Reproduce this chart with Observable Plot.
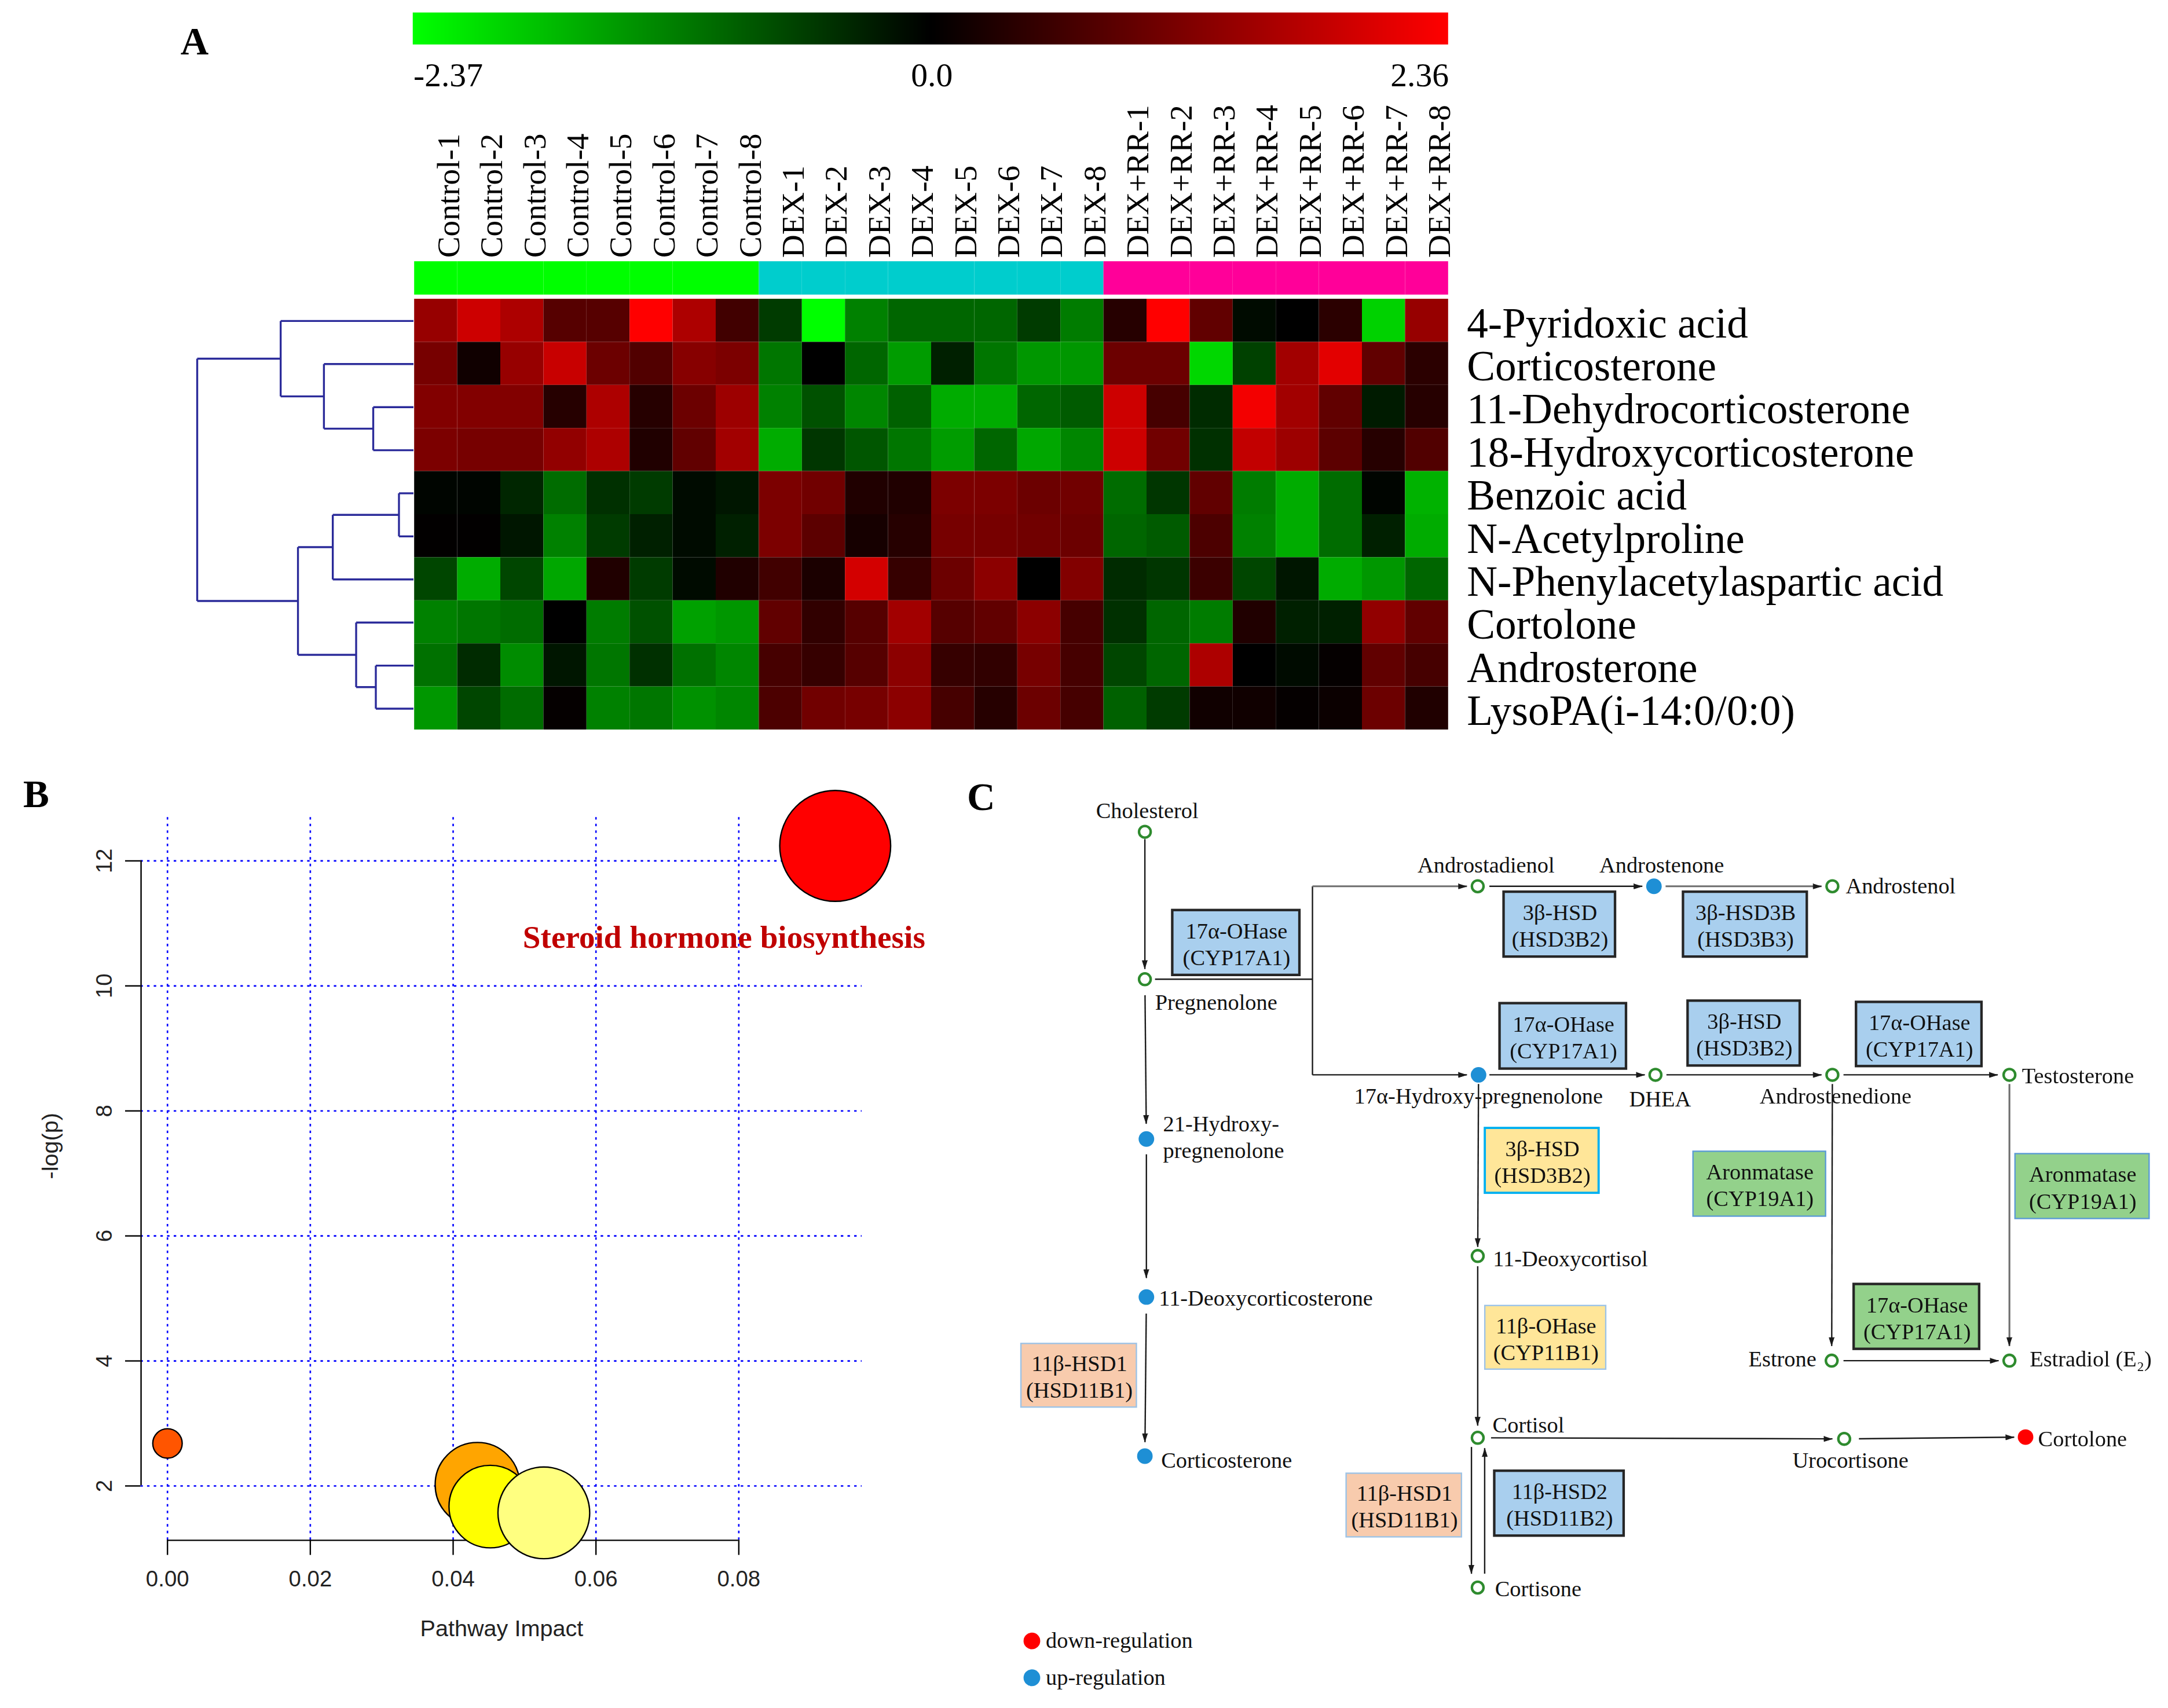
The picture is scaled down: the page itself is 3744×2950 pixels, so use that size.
<!DOCTYPE html>
<html>
<head>
<meta charset="utf-8">
<script src="https://cdn.jsdelivr.net/npm/d3@7"></script>
<script src="https://cdn.jsdelivr.net/npm/@observablehq/plot@0.6"></script>
<style>
  html, body { margin: 0; padding: 0; background: #fff; overflow: hidden; }
  #page { position: absolute; left: 0; top: 0; width: 1560px; height: 1230px; transform: scale(2.4); transform-origin: 0 0; background: #fff; }
  .box { position: absolute; }
  .panel-label { position: absolute; font-family: "Liberation Serif", "Times New Roman", serif; font-weight: bold; font-size: 28px; line-height: 1; transform: translate(-50%, -50%); color: #000; }
</style>
</head>
<body>
<div id="page"></div>
<script>
const SERIF = '"Liberation Serif", "Times New Roman", serif';
const SANS = '"Liberation Sans", Arial, sans-serif';

// ================= Panel A data =================
const samples = ["Control-1","Control-2","Control-3","Control-4","Control-5","Control-6","Control-7","Control-8",
  "DEX-1","DEX-2","DEX-3","DEX-4","DEX-5","DEX-6","DEX-7","DEX-8",
  "DEX+RR-1","DEX+RR-2","DEX+RR-3","DEX+RR-4","DEX+RR-5","DEX+RR-6","DEX+RR-7","DEX+RR-8"];
const groups = ["Control", "DEX", "DEX+RR"];
const groupColors = ["#00ff00", "#00cdcd", "#ff0099"];
const metabolites = ["4-Pyridoxic acid","Corticosterone","11-Dehydrocorticosterone","18-Hydroxycorticosterone",
  "Benzoic acid","N-Acetylproline","N-Phenylacetylaspartic acid","Cortolone","Androsterone","LysoPA(i-14:0/0:0)"];

const pyridoxic      = [1.4,1.9,1.6,0.8,0.8,2.36,1.6,0.6, -0.55,-2.37,-1.2,-0.95,-0.95,-0.95,-0.55,-1.15, 0.35,2.36,0.9,-0.1,0.0,0.4,-1.95,1.4];
const corticosterone = [1.1,0.15,1.4,1.85,1.0,0.75,1.25,1.15, -1.1,0.0,-0.95,-1.45,-0.3,-1.1,-1.4,-1.4, 1.0,1.0,-2.0,-0.6,1.5,2.1,0.9,0.4];
const dehydro11      = [1.2,1.2,1.2,0.35,1.6,0.35,1.0,1.45, -1.2,-0.75,-1.25,-0.9,-1.6,-1.6,-0.95,-0.85, 1.9,0.65,-0.4,2.25,1.5,0.9,-0.25,0.35];
const hydroxy18      = [1.15,1.1,1.1,1.35,1.6,0.3,0.9,1.5, -1.6,-0.5,-0.8,-1.1,-1.45,-0.95,-1.55,-1.25, 1.9,1.05,-0.45,1.8,1.45,0.85,0.35,0.75];
const benzoic        = [-0.05,-0.05,-0.35,-1.0,-0.45,-0.55,-0.1,-0.2, 1.15,1.05,0.3,0.3,1.15,1.15,1.0,1.05, -1.0,-0.5,0.9,-1.15,-1.6,-1.0,-0.05,-1.65];
const acetylproline  = [0.02,0.02,-0.2,-1.2,-0.55,-0.3,-0.1,-0.3, 1.15,0.85,0.2,0.35,1.1,1.1,1.05,1.0, -0.95,-0.85,0.7,-1.2,-1.6,-1.0,-0.3,-1.6];
const phenylacetyl   = [-0.65,-1.6,-0.65,-1.55,0.3,-0.55,-0.1,0.3, 0.6,0.25,1.95,0.5,1.0,1.3,0.0,1.2, -0.4,-0.5,0.55,-0.65,-0.2,-1.6,-1.4,-0.95];
const cortolone      = [-1.2,-1.1,-1.0,0.0,-1.15,-0.75,-1.5,-1.4, 0.9,0.45,0.8,1.5,0.8,0.9,1.3,0.65, -0.45,-0.95,-1.15,0.3,-0.3,-0.3,1.35,0.9];
const androsterone   = [-1.05,-0.4,-1.3,-0.2,-1.1,-0.45,-1.05,-1.25, 0.65,0.5,0.8,1.3,0.5,0.45,1.1,0.65, -0.65,-0.95,1.6,0.0,-0.1,0.05,0.9,0.65];
const lysopa         = [-1.4,-0.65,-1.0,0.05,-1.2,-1.1,-1.35,-1.25, 0.7,1.05,1.1,1.3,0.65,0.35,1.0,0.65, -0.9,-0.55,0.15,0.15,0.05,0.1,1.0,0.3];
const heatRows = [pyridoxic, corticosterone, dehydro11, hydroxy18, benzoic, acetylproline, phenylacetyl, cortolone, androsterone, lysopa];

const colorDomain = [-2.37, 0, 2.36];
const colorRange = ["#00ff00", "#000000", "#ff0000"];
const colorTicks = [-2.37, 0, 2.36];

// hierarchical clustering merges: [left, right, height]; "mK" = K-th merge
const dendroMerges = [
  ["11-Dehydrocorticosterone", "18-Hydroxycorticosterone", 1.86],
  ["Corticosterone", "m0", 4.14],
  ["4-Pyridoxic acid", "m1", 6.14],
  ["Benzoic acid", "N-Acetylproline", 0.67],
  ["m3", "N-Phenylacetylaspartic acid", 3.73],
  ["Androsterone", "LysoPA(i-14:0/0:0)", 1.74],
  ["Cortolone", "m5", 2.65],
  ["m4", "m6", 5.34],
  ["m2", "m7", 10]
];

// ================= Panel B data =================
const pathwayName   = ["Steroid hormone biosynthesis", null, null, null, null];
const pathwayImpact = [0.0935, 0.0, 0.0434, 0.0452, 0.0527];
const pathwayLogP   = [12.24, 2.68, 2.02, 1.67, 1.57];
const pathwaySize   = [1.592, 0.112, 0.924, 0.882, 1.089];
const pathwayColor  = ["#ff0000", "#ff5500", "#ffa500", "#ffff00", "#ffff80"];
const impactTicks = [0, 0.02, 0.04, 0.06, 0.08];
const logpTicks = [2, 4, 6, 8, 10, 12];
const impactDomain = [-0.0037, 0.0973];
const logpDomain = [1.13, 12.69];

// ================= Panel C data =================
const nodeNames = ["Cholesterol","Pregnenolone","21-Hydroxy-pregnenolone","11-Deoxycorticosterone","Corticosterone",
  "Androstadienol","Androstenone","Androstenol","17α-Hydroxy-pregnenolone","DHEA","Androstenedione","Testosterone",
  "11-Deoxycortisol","Estrone","Estradiol (E\u2082)","Cortisol","Urocortisone","Cortolone","Cortisone"];
const nodeLabels = ["Cholesterol","Pregnenolone","21-Hydroxy-\npregnenolone","11-Deoxycorticosterone","Corticosterone",
  "Androstadienol","Androstenone","Androstenol","17α-Hydroxy-pregnenolone","DHEA","Androstenedione","Testosterone",
  "11-Deoxycortisol","Estrone","Estradiol (E\u2082)","Cortisol","Urocortisone","Cortolone","Cortisone"];
const nodeStatus = ["none","none","up","up","up","none","up","none","up","none","none","none","none","none","none","none","none","down","none"];
// diagram layout (diagram units)
const nodeX = [133.3,133.3,134.4,134.4,133.3,372.8,499.6,628,373.4,500.7,628,755.4,372.8,627.5,755.4,372.8,636.5,767,372.8];
const nodeY = [38.1,144.2,259.2,372.9,487.4,77.3,77.3,77.3,213,213,213,213,343.4,418.7,418.7,474.2,475,473.7,582];
const labelDx = [1.7,7.3,12,9,11.7,6,5.6,9.6,0,3.3,2.3,9,11,-11,14.6,10.7,4.5,9,12.4];
const labelDy = [-16,16,-2,0,2,-16,-16,-1,14.5,16.7,14.5,0,1,-2,-2,-10,14.6,0.5,0];
const labelAnchor = ["middle","start","start","start","start","middle","middle","start","middle","middle","middle","start","start","end","start","start","middle","start","start"];
const junctionNames = ["J0", "J1", "J2"];
const junctionX = [253.9, 253.9, 253.9];
const junctionY = [144.2, 77.3, 213];

const edgeFrom = ["Cholesterol","Pregnenolone","J1","J1","J2","Androstadienol","Androstenone","17α-Hydroxy-pregnenolone","DHEA","Androstenedione",
  "Pregnenolone","21-Hydroxy-pregnenolone","11-Deoxycorticosterone","17α-Hydroxy-pregnenolone","11-Deoxycortisol","Androstenedione","Testosterone",
  "Estrone","Cortisol","Urocortisone","Cortisol","Cortisone"];
const edgeTo = ["Pregnenolone","J0","J2","Androstadienol","17α-Hydroxy-pregnenolone","Androstenone","Androstenol","DHEA","Androstenedione","Testosterone",
  "21-Hydroxy-pregnenolone","11-Deoxycorticosterone","Corticosterone","11-Deoxycortisol","Cortisol","Estrone","Estradiol (E\u2082)",
  "Estradiol (E\u2082)","Urocortisone","Cortolone","Cortisone","Cortisol"];
const edgeHead = [1,0,0,1,1,1,1,1,1,1,1,1,1,1,1,1,1,1,1,1,1,1];
const edgeGray = [0,0,0,1,0,0,1,0,0,0,0,0,0,0,0,0,1,0,0,0,0,0];
const edgeInsetStart = [5.3,7.3,0,0,0,8.4,8.4,7.8,7.9,8,11.5,11,11.9,6.6,7.4,6.6,6.6,8.5,9.6,10.6,6.6,10];
const edgeInsetEnd = [7.4,0,0,7.8,8.4,8.4,7.8,7.7,7.8,8.4,11,13.7,10.1,6.6,8.8,10.6,10.6,7.8,8.5,8.2,10,7.5];
const edgeOffset = [0,0,0,0,0,0,0,0,0,0,0,0,0,0,0,0,0,0,0,0,4.5,5];

const enzymeName = ["17α-OHase","3β-HSD","3β-HSD3B","17α-OHase","3β-HSD","17α-OHase","3β-HSD","Aronmatase","Aronmatase","17α-OHase","11β-OHase","11β-HSD1","11β-HSD1","11β-HSD2"];
const enzymeGene = ["(CYP17A1)","(HSD3B2)","(HSD3B3)","(CYP17A1)","(HSD3B2)","(CYP17A1)","(HSD3B2)","(CYP19A1)","(CYP19A1)","(CYP17A1)","(CYP11B1)","(HSD11B1)","(HSD11B1)","(HSD11B2)"];
const enzymeKind = ["blue","blue","blue","blue","blue","blue","yellowEdge","green","green","greenDark","yellow","peach","peach","blue"];
const boxX1 = [153.5,391.9,521,389,524.3,645.5,378.4,528.2,759.9,643.8,378.4,44.6,278.6,385.2];
const boxX2 = [245,472.1,610.1,480,605,735.8,460.3,623.6,856.4,734.1,465.4,127.7,361.6,478.3];
const boxY1 = [94.9,81.7,81.7,161.9,160.1,161,251.7,268.5,270.2,364,379.5,406.8,500.2,498.4];
const boxY2 = [141.6,128.4,128.4,209,206.8,207.2,298.4,315.2,316.9,410.7,425.3,452.6,546,545.1];

const legendLabels = ["down-regulation", "up-regulation"];
const legendStatus = ["down", "up"];
const legendX = [52, 52];
const legendY = [620.4, 646.9];

// ================= styles =================
const baseStyle = {background: "transparent", overflow: "visible", maxWidth: "none"};
const statusStyle = {
  none: {r: 4.2, fill: "white", stroke: "#2e8b2e", strokeWidth: 1.8},
  up: {r: 5.6, fill: "#1e8fd5"},
  down: {r: 5.6, fill: "#ff0000"}
};
const boxStyle = {
  blue: {fill: "#a9cfee", stroke: "#262626", strokeWidth: 1.8},
  yellowEdge: {fill: "#ffe699", stroke: "#00b0f0", strokeWidth: 1.6},
  yellow: {fill: "#ffe699", stroke: "#9dc3e6", strokeWidth: 1},
  green: {fill: "#93d18b", stroke: "#5b9bd5", strokeWidth: 1},
  greenDark: {fill: "#93d18b", stroke: "#262626", strokeWidth: 1.8},
  peach: {fill: "#f8cbad", stroke: "#9dc3e6", strokeWidth: 1}
};

const page = document.getElementById("page");
function place(el, left, top) {
  const d = document.createElement("div");
  d.className = "box";
  d.style.left = left + "px";
  d.style.top = top + "px";
  d.appendChild(el);
  page.appendChild(d);
}
function panelLabel(t, x, y) {
  const d = document.createElement("div");
  d.className = "panel-label";
  d.style.left = x + "px";
  d.style.top = y + "px";
  d.textContent = t;
  page.appendChild(d);
}

// ================= Panel A =================
const colorScale = {type: "linear", domain: colorDomain, range: colorRange, interpolate: "rgb"};
const legend = Plot.legend({
  color: colorScale,
  width: 745, height: 63,
  marginTop: 0, marginBottom: 40, marginLeft: 0, marginRight: 0,
  ticks: colorTicks, tickSize: 10,
  tickFormat: d => d === 0 ? "0.0" : String(d),
  style: {...baseStyle, fontFamily: SERIF, fontSize: "24px", color: "#000"}
});
legend.querySelectorAll(".tick line").forEach(n => n.remove());
const ltexts = legend.querySelectorAll(".tick text");
ltexts.forEach(t => { t.setAttribute("font-size", "24"); t.setAttribute("font-family", SERIF); t.setAttribute("fill", "#000"); });
if (ltexts.length) {
  ltexts[0].setAttribute("text-anchor", "start");
  ltexts[ltexts.length - 1].setAttribute("text-anchor", "end");
}
place(legend, 297, 9);

const sampleGroup = samples.map(s => s.startsWith("DEX+RR") ? "DEX+RR" : s.startsWith("DEX") ? "DEX" : "Control");
const cells = [];
metabolites.forEach((m, i) => samples.forEach((s, j) => cells.push({metabolite: m, sample: s, value: heatRows[i][j]})));

const heat = Plot.plot({
  width: 1263, height: 540,
  marginLeft: 0, marginRight: 518, marginTop: 184, marginBottom: 15,
  x: {type: "band", domain: samples, padding: 0, axis: null},
  y: {type: "band", domain: ["__group", ...metabolites], padding: 0, axis: null},
  color: colorScale,
  style: {...baseStyle, fontFamily: SERIF, color: "#000"},
  marks: [
    ...groups.map((g, k) => Plot.cell(samples.filter((s, j) => sampleGroup[j] === g),
      {x: d => d, y: () => "__group", fill: groupColors[k], insetTop: 4, insetBottom: 3})),
    Plot.cell(cells, {x: "sample", y: "metabolite", fill: "value"}),
    Plot.text(metabolites, {y: d => d, text: d => d, frameAnchor: "right", dx: 13, dy: 2, textAnchor: "start", fontSize: 30.5, fill: "#000", fontFamily: SERIF}),
    Plot.text(samples, {x: d => d, text: d => d, frameAnchor: "top", dy: 1, rotate: -90, textAnchor: "start", fontSize: 23, fill: "#000", fontFamily: SERIF})
  ]
});
place(heat, 297, 0);

// dendrogram
const dpos = new Map(metabolites.map((m, i) => [m, {h: 0, y: i}]));
const dendroSegs = [];
dendroMerges.forEach(([a, b, h], i) => {
  const A = dpos.get(a), B = dpos.get(b);
  dendroSegs.push({x1: A.h, y1: A.y, x2: h, y2: A.y});
  dendroSegs.push({x1: B.h, y1: B.y, x2: h, y2: B.y});
  dendroSegs.push({x1: h, y1: A.y, x2: h, y2: B.y});
  dpos.set("m" + i, {h, y: (A.y + B.y) / 2});
});
const dendro = Plot.plot({
  width: 197, height: 540,
  marginLeft: 41.4, marginRight: 0, marginTop: 215, marginBottom: 15,
  x: {domain: [10, 0], axis: null},
  y: {domain: [-0.5, metabolites.length - 0.5], reverse: true, axis: null},
  style: baseStyle,
  marks: [
    Plot.link(dendroSegs, {x1: "x1", y1: "y1", x2: "x2", y2: "y2", stroke: "#2b2b9a", strokeWidth: 1.4})
  ]
});
place(dendro, 100, 0);

// ================= Panel B =================
const pathways = pathwayName.map((n, i) => ({name: n, impact: pathwayImpact[i], logp: pathwayLogP[i], size: pathwaySize[i], color: pathwayColor[i]}));
const bubble = Plot.plot({
  width: 680, height: 660,
  marginLeft: 101, marginRight: 60, marginTop: 28, marginBottom: 112,
  x: {domain: impactDomain, axis: null, label: null},
  y: {domain: logpDomain, axis: null, label: null},
  r: {type: "sqrt", domain: [0, 1.592], range: [0, 39.9]},
  style: {...baseStyle, fontFamily: SANS, fontSize: "16px", color: "#000"},
  marks: [
    Plot.ruleX(impactTicks, {stroke: "#0000ff", strokeDasharray: "1.8,3", strokeWidth: 1.1}),
    Plot.ruleY(logpTicks, {stroke: "#0000ff", strokeDasharray: "1.8,3", strokeWidth: 1.1}),
    Plot.ruleX([impactDomain[0]], {y1: logpTicks[0], y2: logpTicks[logpTicks.length - 1], stroke: "#000", strokeWidth: 1}),
    Plot.ruleY([logpDomain[0]], {x1: impactTicks[0], x2: impactTicks[impactTicks.length - 1], stroke: "#000", strokeWidth: 1}),
    Plot.axisY(logpTicks, {tickSize: 11, tickPadding: 10, tickRotate: -90, label: null, fill: "#222"}),
    Plot.axisX(impactTicks, {tickSize: 11, tickPadding: 11, tickFormat: d3.format(".2f"), label: null, fill: "#222"}),
    Plot.dot(pathways, {x: "impact", y: "logp", r: "size", fill: "color", stroke: "#000", strokeWidth: 1, sort: null}),
    Plot.text(pathways.filter(d => d.name), {x: "impact", y: "logp", text: "name", dx: -80, dy: 66,
      fill: "#c00000", fontWeight: "bold", fontFamily: SERIF, fontSize: 23}),
    Plot.text(["-log(p)"], {text: d => d, frameAnchor: "left", dx: -65, rotate: -90, fontSize: 16.5, fill: "#222"}),
    Plot.text(["Pathway Impact"], {text: d => d, frameAnchor: "bottom", dy: 69, fontSize: 16.5, fill: "#222"})
  ]
});
place(bubble, 0, 560);

// ================= Panel C =================
const nodes = nodeNames.map((n, i) => ({name: n, label: nodeLabels[i], status: nodeStatus[i], x: nodeX[i], y: nodeY[i], dx: labelDx[i], dy: labelDy[i], anchor: labelAnchor[i]}));
const pos = new Map(nodes.map(n => [n.name, n]));
junctionNames.forEach((j, i) => pos.set(j, {x: junctionX[i], y: junctionY[i]}));
const segs = [], heads = [];
edgeFrom.forEach((f, i) => {
  const a = pos.get(f), b = pos.get(edgeTo[i]);
  const dx = b.x - a.x, dy = b.y - a.y, L = Math.hypot(dx, dy), ux = dx / L, uy = dy / L;
  const px = -uy, py = ux, o = edgeOffset[i];
  const x1 = a.x + ux * edgeInsetStart[i] + px * o, y1 = a.y + uy * edgeInsetStart[i] + py * o;
  const x2 = b.x - ux * edgeInsetEnd[i] + px * o, y2 = b.y - uy * edgeInsetEnd[i] + py * o;
  segs.push({x1, y1, x2, y2, gray: edgeGray[i]});
  if (edgeHead[i]) {
    const bx = x2 - ux * 6, by = y2 - uy * 6;
    heads.push({id: i, x: x2, y: y2}, {id: i, x: bx + px * 1.9, y: by + py * 1.9}, {id: i, x: bx - px * 1.9, y: by - py * 1.9});
  }
});
const boxes = enzymeName.map((n, i) => ({name: n, gene: enzymeGene[i], kind: enzymeKind[i], x1: boxX1[i], x2: boxX2[i], y1: boxY1[i], y2: boxY2[i]}));
const legendItems = legendLabels.map((l, i) => ({label: l, status: legendStatus[i], x: legendX[i], y: legendY[i]}));

const pathway = Plot.plot({
  width: 870, height: 669, margin: 0,
  x: {domain: [0, 870], axis: null},
  y: {domain: [0, 669], reverse: true, axis: null},
  style: {...baseStyle, fontFamily: SERIF, fontSize: "16px", color: "#000"},
  marks: [
    ...Object.entries(boxStyle).map(([k, s]) => Plot.rect(boxes.filter(b => b.kind === k), {x1: "x1", x2: "x2", y1: "y1", y2: "y2", ...s})),
    Plot.link(segs.filter(s => !s.gray), {x1: "x1", y1: "y1", x2: "x2", y2: "y2", stroke: "#1a1a1a", strokeWidth: 1}),
    Plot.link(segs.filter(s => s.gray), {x1: "x1", y1: "y1", x2: "x2", y2: "y2", stroke: "#6e6e6e", strokeWidth: 1.3}),
    Plot.line(heads, {x: "x", y: "y", z: "id", fill: "#1a1a1a", stroke: "#1a1a1a", strokeWidth: 0.4}),
    ...Object.entries(statusStyle).map(([k, s]) => Plot.dot(nodes.filter(n => n.status === k), {x: "x", y: "y", ...s})),
    ...["start", "middle", "end"].map(a => Plot.text(nodes.filter(n => n.anchor === a),
      {x: d => d.x + d.dx, y: d => d.y + d.dy, text: "label", textAnchor: a, lineHeight: 1.2, fontSize: 16, fill: "#111"})),
    Plot.text(boxes, {x: d => (d.x1 + d.x2) / 2, y: d => (d.y1 + d.y2) / 2, text: d => d.name + "\n" + d.gene, lineHeight: 1.2, fontSize: 16, fill: "#111"}),
    ...["down", "up"].map(k => Plot.dot(legendItems.filter(d => d.status === k), {x: "x", y: "y", r: 6, fill: statusStyle[k].fill})),
    Plot.text(legendItems, {x: d => d.x + 10, y: "y", text: "label", textAnchor: "start", fontSize: 16, fill: "#111"})
  ]
});
place(pathway, 690, 560);

panelLabel("A", 140, 30);
panelLabel("B", 26, 572);
panelLabel("C", 706, 574);
</script>
</body>
</html>
